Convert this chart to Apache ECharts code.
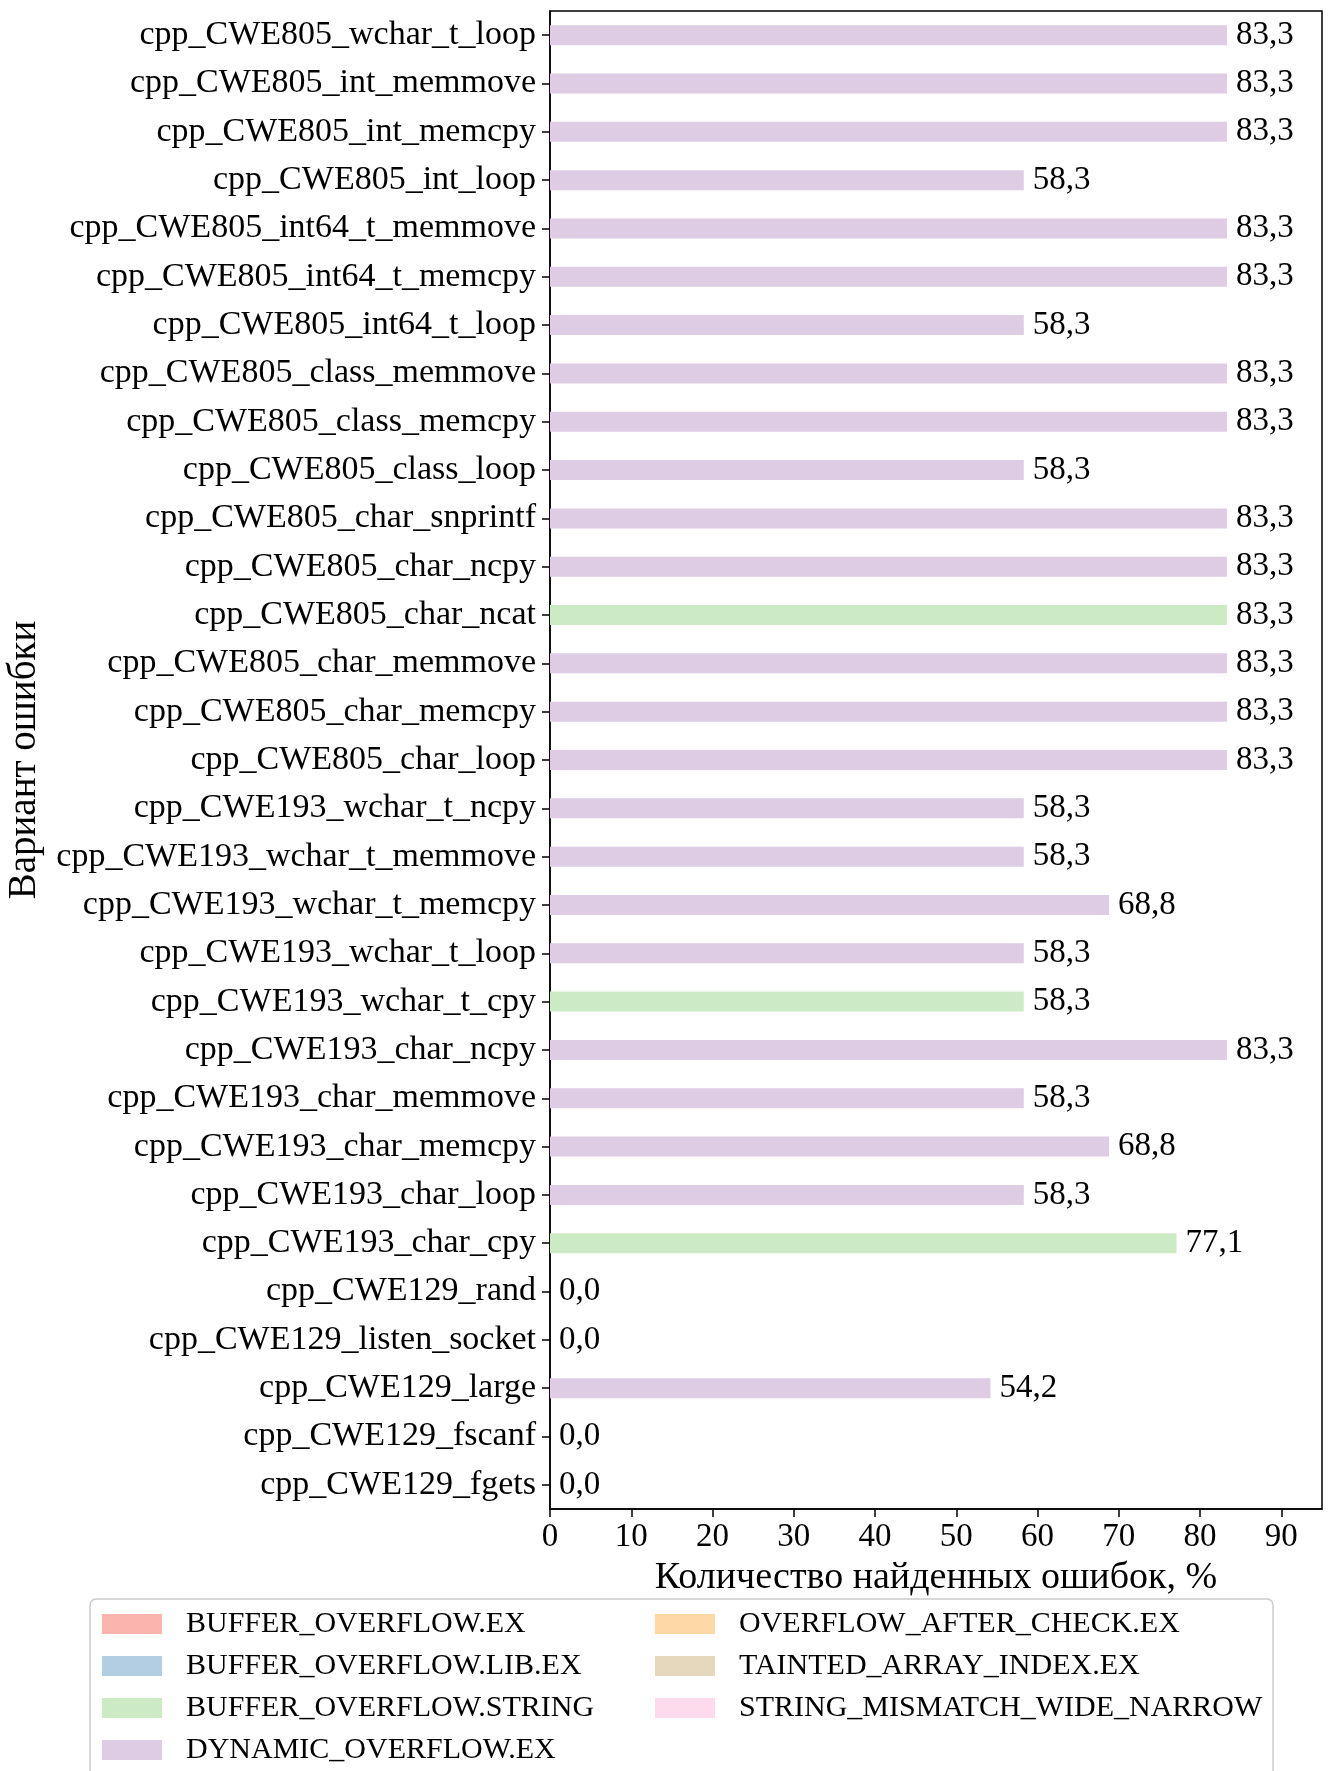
<!DOCTYPE html>
<html>
<head>
<meta charset="utf-8">
<script src="https://cdn.jsdelivr.net/npm/echarts@6/dist/echarts.min.js"></script>
<style>
    html, body { margin: 0; padding: 0; background: #fff; }
    #chart { width: 1332px; height: 1771px; }
</style>
</head>
<body>
<div id="chart"></div>
<script>
    // categories listed top to bottom, as on the picture
    var categories = [
        'cpp_CWE805_wchar_t_loop', 'cpp_CWE805_int_memmove', 'cpp_CWE805_int_memcpy', 'cpp_CWE805_int_loop',
        'cpp_CWE805_int64_t_memmove', 'cpp_CWE805_int64_t_memcpy', 'cpp_CWE805_int64_t_loop',
        'cpp_CWE805_class_memmove', 'cpp_CWE805_class_memcpy', 'cpp_CWE805_class_loop',
        'cpp_CWE805_char_snprintf', 'cpp_CWE805_char_ncpy', 'cpp_CWE805_char_ncat', 'cpp_CWE805_char_memmove',
        'cpp_CWE805_char_memcpy', 'cpp_CWE805_char_loop',
        'cpp_CWE193_wchar_t_ncpy', 'cpp_CWE193_wchar_t_memmove', 'cpp_CWE193_wchar_t_memcpy',
        'cpp_CWE193_wchar_t_loop', 'cpp_CWE193_wchar_t_cpy',
        'cpp_CWE193_char_ncpy', 'cpp_CWE193_char_memmove', 'cpp_CWE193_char_memcpy', 'cpp_CWE193_char_loop',
        'cpp_CWE193_char_cpy',
        'cpp_CWE129_rand', 'cpp_CWE129_listen_socket', 'cpp_CWE129_large', 'cpp_CWE129_fscanf', 'cpp_CWE129_fgets'
    ];
    var values = [
        83.3, 83.3, 83.3, 58.3,
        83.3, 83.3, 58.3,
        83.3, 83.3, 58.3,
        83.3, 83.3, 83.3, 83.3,
        83.3, 83.3,
        58.3, 58.3, 68.8,
        58.3, 58.3,
        83.3, 58.3, 68.8, 58.3,
        77.1,
        0.0, 0.0, 54.2, 0.0, 0.0
    ];
    // index into seriesNames for each category
    var errorType = [
        3, 3, 3, 3,
        3, 3, 3,
        3, 3, 3,
        3, 3, 2, 3,
        3, 3,
        3, 3, 3,
        3, 2,
        3, 3, 3, 3,
        2,
        3, 3, 3, 3, 3
    ];
    var seriesNames = [
        'BUFFER_OVERFLOW.EX', 'BUFFER_OVERFLOW.LIB.EX', 'BUFFER_OVERFLOW.STRING', 'DYNAMIC_OVERFLOW.EX',
        'OVERFLOW_AFTER_CHECK.EX', 'TAINTED_ARRAY_INDEX.EX', 'STRING_MISMATCH_WIDE_NARROW'
    ];
    var seriesColors = ['#fbb4ae', '#b3cde3', '#ccebc5', '#decbe4', '#fed9a6', '#e5d8bd', '#fddaec'];
    var xTicks = [0, 10, 20, 30, 40, 50, 60, 70, 80, 90];

    var FONT = '"Liberation Serif", "Times New Roman", serif';

    var series = seriesNames.map(function (name, s) {
        return {
            name: name,
            type: 'bar',
            stack: 'all',
            barWidth: 20,
            itemStyle: {color: seriesColors[s]},
            label: {
                show: true,
                position: 'right',
                distance: 9,
                color: '#000',
                fontFamily: FONT,
                fontSize: 33,
                formatter: function (p) { return p.value.toFixed(1).replace('.', ','); }
            },
            data: values.map(function (v, i) { return errorType[i] === s ? v : '-'; })
        };
    });

    function legendColumn(left, names) {
        return {
            orient: 'vertical', left: left, top: 1609, padding: 0,
            itemWidth: 60, itemHeight: 20, itemGap: 12, icon: 'rect',
            textStyle: {fontFamily: FONT, fontSize: 30, color: '#000', lineHeight: 30, padding: [0, 0, 0, 19]},
            data: names
        };
    }

    var chart = echarts.init(document.getElementById('chart'), null, {renderer: 'canvas'});
    chart.setOption({
        animation: false,
        backgroundColor: '#fff',
        textStyle: {fontFamily: FONT},
        grid: {
            left: 550, right: 10, top: 11, bottom: 262,
            show: true, borderColor: '#000', borderWidth: 1.5,
            containLabel: false, outerBoundsMode: 'none'
        },
        xAxis: {
            type: 'value',
            min: 0, max: 95, interval: 10,
            name: 'Количество найденных ошибок, %',
            nameLocation: 'middle',
            nameGap: 50,
            nameTextStyle: {fontFamily: FONT, fontSize: 38, color: '#000'},
            splitLine: {show: false},
            axisLine: {show: true, lineStyle: {color: '#000', width: 1.5}},
            axisTick: {show: true, length: 8, lineStyle: {color: '#000', width: 1.5}, customValues: xTicks},
            axisLabel: {fontFamily: FONT, fontSize: 33, color: '#000', margin: 12, customValues: xTicks}
        },
        yAxis: {
            type: 'category',
            inverse: true,
            data: categories,
            name: 'Вариант ошибки',
            nameLocation: 'middle',
            nameRotate: 90,
            nameGap: 506,
            nameTextStyle: {fontFamily: FONT, fontSize: 39, color: '#000'},
            axisLine: {show: true, lineStyle: {color: '#000', width: 1.5}},
            axisTick: {show: true, alignWithLabel: true, length: 8, lineStyle: {color: '#000', width: 1.5}},
            axisLabel: {fontFamily: FONT, fontSize: 34, color: '#000', margin: 14}
        },
        legend: [
            legendColumn(102, seriesNames.slice(0, 4)),
            legendColumn(655, seriesNames.slice(4))
        ],
        graphic: [{
            type: 'rect', z: -1, silent: true,
            shape: {x: 90, y: 1599, width: 1183, height: 200, r: 6},
            style: {fill: '#fff', stroke: '#cccccc', lineWidth: 1.5}
        }],
        series: series
    });
</script>
</body>
</html>
